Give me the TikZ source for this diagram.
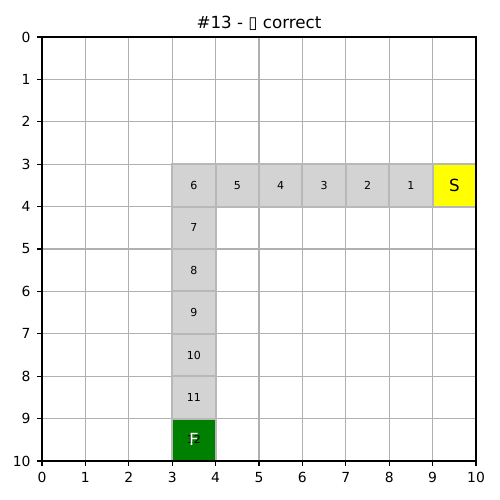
\documentclass[tikz,border=0pt]{standalone}
\usepackage{fontspec}
\setmainfont{DejaVu Sans}
\begin{document}
\begin{tikzpicture}[x=1pt,y=-1pt,
  cellbox/.style={draw=celledge,fill=cellfill,line width=2pt},
  celltxt/.style={font=\fontsize{11}{11}\selectfont,text=black},
  bigtxt/.style={font=\fontsize{16.7}{16.7}\selectfont},
  ticklab/.style={font=\fontsize{13.9}{13.9}\selectfont,text=black}]
\definecolor{cellfill}{HTML}{D3D3D3}
\definecolor{celledge}{HTML}{B8B8B8}
\definecolor{gridc}{HTML}{B0B0B0}
\definecolor{startc}{HTML}{FFFF00}
\definecolor{goalc}{HTML}{008000}
\useasboundingbox (0,0) rectangle (500,500);
\fill[white] (0,0) rectangle (500,500);
\node[font=\fontsize{16.7}{16.7}\selectfont] (title) at (259,23) {\#13 - ▯ correct};
\begin{scope}[shift={(42,37)},x=43.4pt,y=-42.4pt]
  % grid
  \foreach \i in {1,...,9} {
    \draw[gridc,line width=1.1pt] (\i,0) -- (\i,10);
    \draw[gridc,line width=1.1pt] (0,\i) -- (10,\i);
  }
  % path cells row 3
  \foreach \c/\n in {8/1,7/2,6/3,5/4,4/5,3/6} {
    \draw[cellbox] (\c,3) rectangle (\c+1,4);
    \node[celltxt] (c\n) at (\c+0.5,3.5) {\n};
  }
  \foreach \r/\n in {4/7,5/8,6/9,7/10,8/11} {
    \draw[cellbox] (3,\r) rectangle (4,\r+1);
    \node[celltxt] (c\n) at (3.5,\r+0.5) {\n};
  }
  % start
  \draw[cellbox,fill=startc] (9,3) rectangle (10,4);
  \node[bigtxt,text=black] (S) at (9.5,3.5) {S};
  % goal
  \draw[cellbox,fill=goalc] (3,9) rectangle (4,10);
  \node[celltxt] (c12) at (3.5,9.5) {12};
  \node[bigtxt,text=white] (F) at (3.5,9.5) {F};
  % frame
  \draw[black,line width=1.1pt] (0,0) rectangle (10,10);
  % ticks and labels
  \foreach \i in {0,...,10} {
    \draw[black,line width=1.1pt] (\i,10) -- ++(0,-4.9pt);
    \node[ticklab,anchor=north] (xt\i) at ([yshift=-8pt]\i,10) {\i};
    \draw[black,line width=1.1pt] (0,\i) -- ++(-4.9pt,0);
    \node[ticklab,anchor=east] (yt\i) at ([xshift=-8pt]0,\i) {\i};
  }
\end{scope}
\end{tikzpicture}
\end{document}
